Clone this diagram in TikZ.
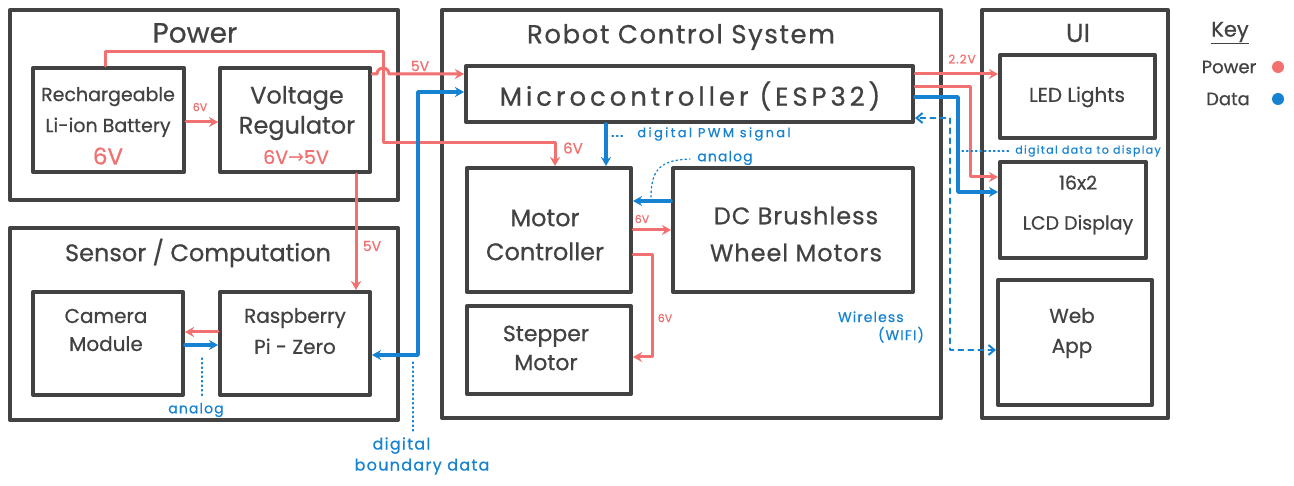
\documentclass[tikz,border=0pt]{standalone}
\usepackage{fontspec}
\setmainfont{Poppins}[FakeBold=0.6]
\newfontfamily\symfont{DejaVu Sans}
\usetikzlibrary{arrows.meta}
\definecolor{ink}{HTML}{424242}
\definecolor{pwr}{HTML}{F27070}
\definecolor{dat}{HTML}{1683D2}
\newcommand{\fs}[2]{\fontsize{#1}{#2}\selectfont}
\newcommand{\wide}[1]{\addfontfeatures{LetterSpace=#1}}
\begin{document}
\begin{tikzpicture}[x=1pt,y=-1pt, line join=round, line cap=round,
  blk/.style={draw=ink, line width=4pt, inner sep=0pt},
  ttl/.style={text=ink, inner sep=0pt, font=\fs{26}{30}},
  txt/.style={text=ink, inner sep=0pt, align=center},
  pl/.style={text=pwr, inner sep=0pt},
  dl/.style={text=dat, inner sep=0pt, align=center},
  pwire/.style={draw=pwr, line width=3pt},
  dwire/.style={draw=dat, line width=3.5pt},
  dlink/.style={draw=dat, line width=2pt, dash pattern=on 5pt off 5pt},
  lead/.style={draw=dat, line width=1.3pt, dash pattern=on 1.5pt off 3pt},
  >={Stealth[length=9pt,width=10pt]}]
\useasboundingbox[fill=white] (0,0) rectangle (1294,486);

% ---------- group frames ----------
\node[blk, minimum width=388, minimum height=190] (power) at (204,105) {};
\node[blk, minimum width=388, minimum height=192] (sens) at (204,324) {};
\node[blk, minimum width=499, minimum height=408] (rcs) at (691.5,214) {};
\node[blk, minimum width=186, minimum height=408] (ui) at (1075,214) {};

\node[ttl, font=\fs{28}{30}] (tpower) at (195,33) {Power};
\node[ttl, font=\fs{24}{28}] (tsens) at (198,253) {Sensor / Computation};
\node[ttl, font=\fs{26}{30}\wide{6}] (trcs) at (681,37) {Robot Control System};
\node[ttl] (tui) at (1078,33) {UI};

% ---------- blocks ----------
\node[blk, minimum width=151, minimum height=104] (bat) at (108.5,120) {};
\node[blk, minimum width=150, minimum height=104] (reg) at (295,120) {};
\node[blk, minimum width=150, minimum height=103] (cam) at (108,343.5) {};
\node[blk, minimum width=150, minimum height=103] (rpi) at (295,343.5) {};
\node[blk, minimum width=447, minimum height=56] (mcu) at (689.5,94) {};
\node[blk, minimum width=164, minimum height=124] (mc) at (549,230) {};
\node[blk, minimum width=240, minimum height=124] (dc) at (793,230) {};
\node[blk, minimum width=164, minimum height=88] (step) at (549,350) {};
\node[blk, minimum width=155, minimum height=83] (led) at (1077.5,96.5) {};
\node[blk, minimum width=146, minimum height=96] (lcd) at (1073,210) {};
\node[blk, minimum width=154, minimum height=125] (web) at (1075,342.5) {};

% ---------- block texts ----------
\node[txt, font=\fs{19}{31}] (battxt) at (108,112) {Rechargeable\\Li-ion Battery};
\node[pl, font=\fs{23}{26}] (batv) at (108,156) {6V};
\node[txt, font=\fs{24}{30}] (regtxt) at (297,113) {Voltage\\Regulator};
\node[pl, font=\fs{19}{22}] (regv) at (296,157) {6V{\symfont→}5V};
\node[txt, font=\fs{20}{28}] (camtxt) at (106,330) {Camera\\Module};
\node[txt, font=\fs{20}{31}] (rpitxt) at (295,331) {Raspberry\\Pi - Zero};
\node[txt, font=\fs{26}{30}\wide{15}] (mcutxt) at (690,96) {Microcontroller (ESP32)};
\node[txt, font=\fs{24}{34}] (mctxt) at (545,235) {Motor\\Controller};
\node[txt, font=\fs{24}{37}\wide{4}] (dctxt) at (796,234) {DC Brushless\\Wheel Motors};
\node[txt, font=\fs{22}{29}] (steptxt) at (546,348) {Stepper\\Motor};
\node[txt, font=\fs{20}{24}] (ledtxt) at (1077,97) {LED Lights};
\node[txt, font=\fs{19}{40}] (lcdtxt) at (1078,205) {16x2\\LCD Display};
\node[txt, font=\fs{20}{30}] (webtxt) at (1072,333) {Web\\App};

% ---------- power wiring ----------
\draw[pwire,->] (bat.north -| 105,0) -- (105,52) -- (383,52) -- (383,143) -- (555,143) -- (mc.north -| 555,0);
\draw[pwire,->] (reg.east |- 0,74) -- (377,74) arc[start angle=180, end angle=360, radius=6] -- (mcu.west |- 0,74);
\draw[pwire,->] (bat.east |- 0,122) -- (reg.west |- 0,122);
\draw[pwire,->] (reg.south -| 356,0) -- (rpi.north -| 356,0);
\draw[pwire,->] (mc.east |- 0,230) -- (dc.west |- 0,230);
\draw[pwire,->] (mc.east |- 0,255) -- (652,255) -- (652,357) -- (step.east |- 0,357);
\draw[pwire,->] (rpi.west |- 0,332) -- (cam.east |- 0,332);
\draw[pwire,->] (mcu.east |- 0,74) -- (led.west |- 0,74);
\draw[pwire,->] (mcu.east |- 0,87) -- (970,87) -- (970,177) -- (lcd.west |- 0,177);

\node[pl, font=\fs{14}{16}] (v5a) at (420,66) {5V};
\node[pl, font=\fs{11}{13}] (v6a) at (200,107) {6V};
\node[pl, font=\fs{15}{16}] (v6b) at (573,148) {6V};
\node[pl, font=\fs{14}{15}] (v5b) at (372,246) {5V};
\node[pl, font=\fs{11}{12}] (v6c) at (642,219) {6V};
\node[pl, font=\fs{11}{12}] (v6d) at (665,318) {6V};
\node[pl, font=\fs{12}{14}\wide{8}] (v22) at (962,59) {2.2V};

% ---------- data wiring ----------
\draw[dwire,<->] (rpi.east |- 0,355) -- (418,355) -- (418,92) -- (mcu.west |- 0,92);
\draw[dwire,->] (cam.east |- 0,345) -- (rpi.west |- 0,345);
\draw[dwire,->] (mcu.south -| 606,0) -- (mc.north -| 606,0);
\draw[dwire,->] (dc.west |- 0,201) -- (mc.east |- 0,201);
\draw[dwire,->] (mcu.east |- 0,97) -- (958,97) -- (958,192) -- (lcd.west |- 0,192);
\draw[dlink,<->,>={Straight Barb[length=6pt,width=10pt]}] (web.west |- 0,350) -- (950,350) -- (950,118) -- (mcu.east |- 0,118);

% ---------- data annotations ----------
\draw[lead] (202,358) -- (202,398);
\node[dl, font=\fs{14}{16}\wide{8}] (an1) at (196,410) {analog};
\draw[lead] (413,362) -- (413,432);
\node[dl, font=\fs{16}{21}\wide{8}, align=left] (dbd) at (422,456) {\hspace*{18pt}digital\\boundary data};
\draw[lead] (612,136) -- (624,136);
\node[dl, font=\fs{13}{14}\wide{18}] (pwm) at (714,134) {digital PWM signal};
\draw[lead] (651,197) .. controls (651,168) and (662,160) .. (690,159);
\node[dl, font=\fs{14}{16}\wide{8}] (an2) at (725,158) {analog};
\draw[lead] (962,151) -- (1010,151);
\node[dl, font=\fs{11}{12}\wide{12}] (ddd) at (1088,151) {digital data to display};
\node[dl, font=\fs{14}{18}\wide{8}, align=left] (wifi) at (881,327) {Wireless\\\hspace*{40pt}(WIFI)};

% ---------- key ----------
\node[txt, font=\fs{21}{24}] (keyt) at (1230,33) {\underline{Key}};
\node[txt, font=\fs{18}{20}] (keyp) at (1229,67) {Power};
\node[txt, font=\fs{18}{20}] (keyd) at (1228,99) {Data};
\fill[pwr] (1278,67) circle[radius=6];
\fill[dat] (1278,99) circle[radius=6];
\end{tikzpicture}
\end{document}
